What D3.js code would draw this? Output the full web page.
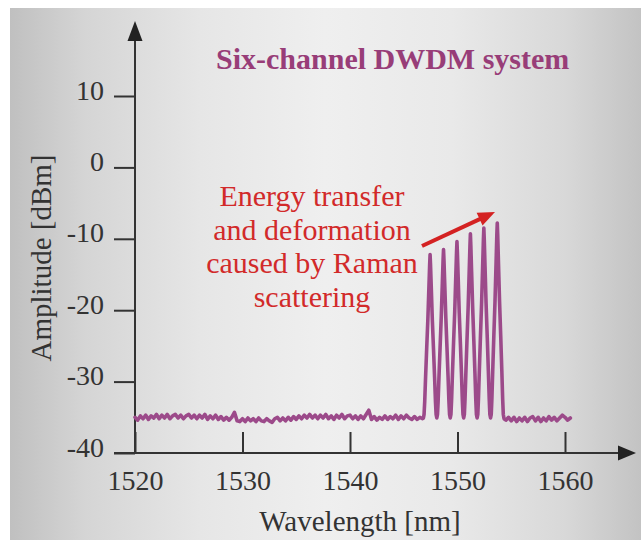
<!DOCTYPE html>
<html>
<head>
<meta charset="utf-8">
<script src="https://cdn.jsdelivr.net/npm/d3@7"></script>
<style>
  html, body { margin: 0; padding: 0; background: #ffffff; }
  svg { display: block; }
</style>
</head>
<body>
<svg id="chart" width="641" height="540"></svg>
<script>
// ---- data -------------------------------------------------------------
const xTickValues = [1520, 1530, 1540, 1550, 1560];
const yTickValues = [-40, -30, -20, -10, 0, 10];

// noise floor left of the channels, sampled every 0.25 nm from 1520 nm
const floorLeftStart = 1520;
const floorStep = 0.25;
const floorLeft = [
  -35.0, -35.4, -34.8, -35.2, -34.7, -35.3, -34.8, -35.1,
  -34.6, -35.2, -34.7, -35.1, -34.6, -35.2, -34.8, -34.6,
  -35.1, -34.7, -35.2, -34.8, -34.6, -35.1, -34.7, -35.2,
  -34.7, -35.1, -34.6, -35.3, -34.8, -35.2, -34.7, -35.3,
  -34.9, -35.4, -35.0, -35.4, -35.0, -34.3, -35.5, -35.6,
  -35.2, -35.6, -35.1, -35.5, -35.2, -35.6, -35.1, -35.5,
  -35.6, -35.2, -35.5, -35.7, -35.2, -35.0, -35.5, -35.1,
  -35.5, -35.0, -35.4, -34.9, -35.3, -34.8, -35.2, -34.7,
  -35.1, -34.6, -35.1, -34.7, -35.2, -34.7, -35.1, -34.6,
  -35.2, -34.8, -35.3, -34.7, -35.1, -34.6, -35.2, -34.8,
  -34.7, -35.2, -34.8, -35.3, -34.8, -35.2, -34.6, -34.0,
  -35.3, -34.9, -35.4, -35.0, -35.3, -34.8, -35.3, -34.9,
  -35.2, -34.7, -35.3, -34.8, -35.2, -34.7, -35.1, -35.3,
  -34.9, -35.3, -35.0, -35.2
];

// the six DWDM channels [wavelength nm, level dBm]
const channelTrace = [
  [1546.83, -35.1],
  [1546.89, -34.6], [1546.95, -32.8], [1547.03, -29.4], [1547.13, -25.5], [1547.24, -21.4], [1547.34, -16.8], [1547.41, -13.6],
  [1547.45, -12.2],
  [1547.49, -13.6], [1547.56, -16.8], [1547.66, -21.4], [1547.77, -25.5], [1547.87, -29.4], [1547.95, -32.8], [1548.01, -34.6],
  [1548.075, -35.1],
  [1548.14, -34.6], [1548.20, -32.7], [1548.28, -29.2], [1548.38, -25.2], [1548.49, -20.9], [1548.59, -16.2], [1548.66, -12.9],
  [1548.70, -11.5],
  [1548.74, -12.9], [1548.81, -16.2], [1548.91, -20.9], [1549.02, -25.2], [1549.12, -29.2], [1549.20, -32.7], [1549.26, -34.6],
  [1549.325, -35.1],
  [1549.39, -34.6], [1549.45, -32.6], [1549.53, -28.9], [1549.63, -24.7], [1549.74, -20.3], [1549.84, -15.3], [1549.91, -11.9],
  [1549.95, -10.4],
  [1549.99, -11.9], [1550.06, -15.3], [1550.16, -20.3], [1550.27, -24.7], [1550.37, -28.9], [1550.45, -32.6], [1550.51, -34.6],
  [1550.575, -35.1],
  [1550.64, -34.6], [1550.70, -32.5], [1550.78, -28.7], [1550.88, -24.3], [1550.99, -19.6], [1551.09, -14.5], [1551.16, -10.9],
  [1551.20, -9.3],
  [1551.24, -10.9], [1551.31, -14.5], [1551.41, -19.6], [1551.52, -24.3], [1551.62, -28.7], [1551.70, -32.5], [1551.76, -34.6],
  [1551.825, -35.1],
  [1551.89, -34.6], [1551.95, -32.4], [1552.03, -28.5], [1552.13, -23.9], [1552.24, -19.1], [1552.34, -13.8], [1552.41, -10.1],
  [1552.45, -8.5],
  [1552.49, -10.1], [1552.56, -13.8], [1552.66, -19.1], [1552.77, -23.9], [1552.87, -28.5], [1552.95, -32.4], [1553.01, -34.6],
  [1553.075, -35.1],
  [1553.14, -34.6], [1553.20, -32.4], [1553.28, -28.3], [1553.38, -23.6], [1553.49, -18.7], [1553.59, -13.3], [1553.66, -9.4],
  [1553.70, -7.8],
  [1553.74, -9.4], [1553.81, -13.3], [1553.91, -18.7], [1554.02, -23.6], [1554.12, -28.3], [1554.20, -32.4], [1554.26, -34.6],
  [1554.33, -35.2]
];

// noise floor right of the channels, every 0.25 nm from 1554.5 nm
const floorRightStart = 1554.5;
const floorRight = [
  -35.4, -35.0, -35.5, -35.0, -35.6, -35.1, -35.5, -35.0,
  -35.6, -35.1, -34.9, -35.5, -35.0, -35.6, -35.1, -35.5,
  -34.9, -35.4, -35.0, -35.5, -35.1, -34.7, -35.0, -35.4,
  -35.1
];

const titleText = "Six-channel DWDM system";
const noteLines = ["Energy transfer", "and deformation", "caused by Raman", "scattering"];
const xTitle = "Wavelength [nm]";
const yTitle = "Amplitude [dBm]";

// ---- assemble spectrum -------------------------------------------------
const spectrum = []
  .concat(floorLeft.map((v, i) => [floorLeftStart + i * floorStep, v]))
  .concat(channelTrace)
  .concat(floorRight.map((v, i) => [floorRightStart + i * floorStep, v]));

// ---- layout -----------------------------------------------------------
const W = 641, H = 540;
const svg = d3.select("#chart");
const serif = "'Liberation Serif', 'Times New Roman', serif";
const ink = "#333333";
const plainNumber = d => String(d);   // hyphen-minus, as printed on the axes

const x = d3.scaleLinear().domain([1520, 1560]).range([135, 565]);
const y = d3.scaleLinear().domain([-40, 10]).range([453, 96]);

// backdrop
const defs = svg.append("defs");
const grad = defs.append("linearGradient").attr("id", "bg")
  .attr("x1", "0%").attr("x2", "100%").attr("y1", "0%").attr("y2", "0%");
[[0, "#c0c0c0"], [0.12, "#d5d5d5"], [0.3, "#e6e6e6"], [0.5, "#efefef"],
 [0.7, "#e9e9e9"], [0.88, "#d8d8d8"], [1, "#c3c3c3"]]
  .forEach(([o, c]) => grad.append("stop").attr("offset", o).attr("stop-color", c));

svg.append("rect").attr("width", W).attr("height", H).attr("fill", "#ffffff");
svg.append("rect").attr("x", 10).attr("y", 8).attr("width", W - 10).attr("height", H - 8)
  .attr("fill", "url(#bg)");

// y axis
const yAxis = svg.append("g")
  .attr("transform", `translate(${x(1520)},0)`)
  .call(d3.axisLeft(y).tickValues(yTickValues).tickSize(21).tickPadding(10).tickFormat(plainNumber));
yAxis.select(".domain").remove();
yAxis.selectAll("line").attr("stroke", ink).attr("stroke-width", 2);
yAxis.selectAll("text")
  .attr("dy", 3)
  .attr("fill", ink)
  .style("font-family", serif)
  .style("font-size", "28px");

// x axis
const xAxis = svg.append("g")
  .attr("transform", `translate(0,${y(-40)})`)
  .call(d3.axisBottom(x).tickValues(xTickValues).tickSize(-21).tickPadding(0).tickFormat(plainNumber));
xAxis.select(".domain").remove();
xAxis.selectAll("line").attr("stroke", ink).attr("stroke-width", 2);
xAxis.selectAll("text")
  .attr("y", 37).attr("dy", 0)
  .attr("fill", ink)
  .style("font-family", serif)
  .style("font-size", "28px");

// axis lines with arrowheads
const x0 = x(1520), yBase = y(-40);
svg.append("line").attr("x1", x0).attr("x2", x0).attr("y1", yBase).attr("y2", 34)
  .attr("stroke", ink).attr("stroke-width", 2);
svg.append("path")
  .attr("d", `M${x0},21 L${x0 + 7.5},41 L${x0 - 7.5},41 Z`)
  .attr("fill", "#222");
svg.append("line").attr("x1", 114).attr("x2", 626).attr("y1", yBase).attr("y2", yBase)
  .attr("stroke", ink).attr("stroke-width", 2);
svg.append("path")
  .attr("d", `M636,${yBase} L618,${yBase - 7.5} L618,${yBase + 7.5} Z`)
  .attr("fill", "#222");

// spectrum trace
const line = d3.line().x(d => x(d[0])).y(d => y(d[1])).curve(d3.curveLinear);
svg.append("path")
  .datum(spectrum)
  .attr("d", line)
  .attr("fill", "none")
  .attr("stroke", "#9c4a8a")
  .attr("stroke-width", 3.6)
  .attr("stroke-linejoin", "round")
  .attr("stroke-linecap", "round");

// title
svg.append("text")
  .attr("x", 216).attr("y", 69)
  .attr("fill", "#983d78")
  .style("font-family", serif)
  .style("font-weight", "bold")
  .style("font-size", "30px")
  .text(titleText);

// annotation
const note = svg.append("text")
  .attr("text-anchor", "middle")
  .attr("fill", "#d22a2a")
  .style("font-family", serif)
  .style("font-size", "30px");
noteLines.forEach((t, i) => {
  note.append("tspan").attr("x", 312).attr("y", 206 + i * 33.5).text(t);
});
const ax1 = 422, ay1 = 246, ax2 = 495, ay2 = 212;
const ang = Math.atan2(ay2 - ay1, ax2 - ax1);
const hl = 17, hw = 7;
const bx = ax2 - hl * Math.cos(ang), by = ay2 - hl * Math.sin(ang);
svg.append("line")
  .attr("x1", ax1).attr("y1", ay1).attr("x2", bx + 2 * Math.cos(ang)).attr("y2", by + 2 * Math.sin(ang))
  .attr("stroke", "#d42222").attr("stroke-width", 4);
svg.append("path")
  .attr("d", `M${ax2},${ay2} L${bx - hw * Math.sin(ang)},${by + hw * Math.cos(ang)} L${bx + hw * Math.sin(ang)},${by - hw * Math.cos(ang)} Z`)
  .attr("fill", "#d42222");

// axis titles
svg.append("text")
  .attr("x", 360).attr("y", 531)
  .attr("text-anchor", "middle")
  .attr("fill", ink)
  .style("font-family", serif)
  .style("font-size", "29px")
  .text(xTitle);
svg.append("text")
  .attr("transform", "translate(51,258) rotate(-90)")
  .attr("text-anchor", "middle")
  .attr("fill", ink)
  .style("font-family", serif)
  .style("font-size", "29px")
  .text(yTitle);
</script>
</body>
</html>
